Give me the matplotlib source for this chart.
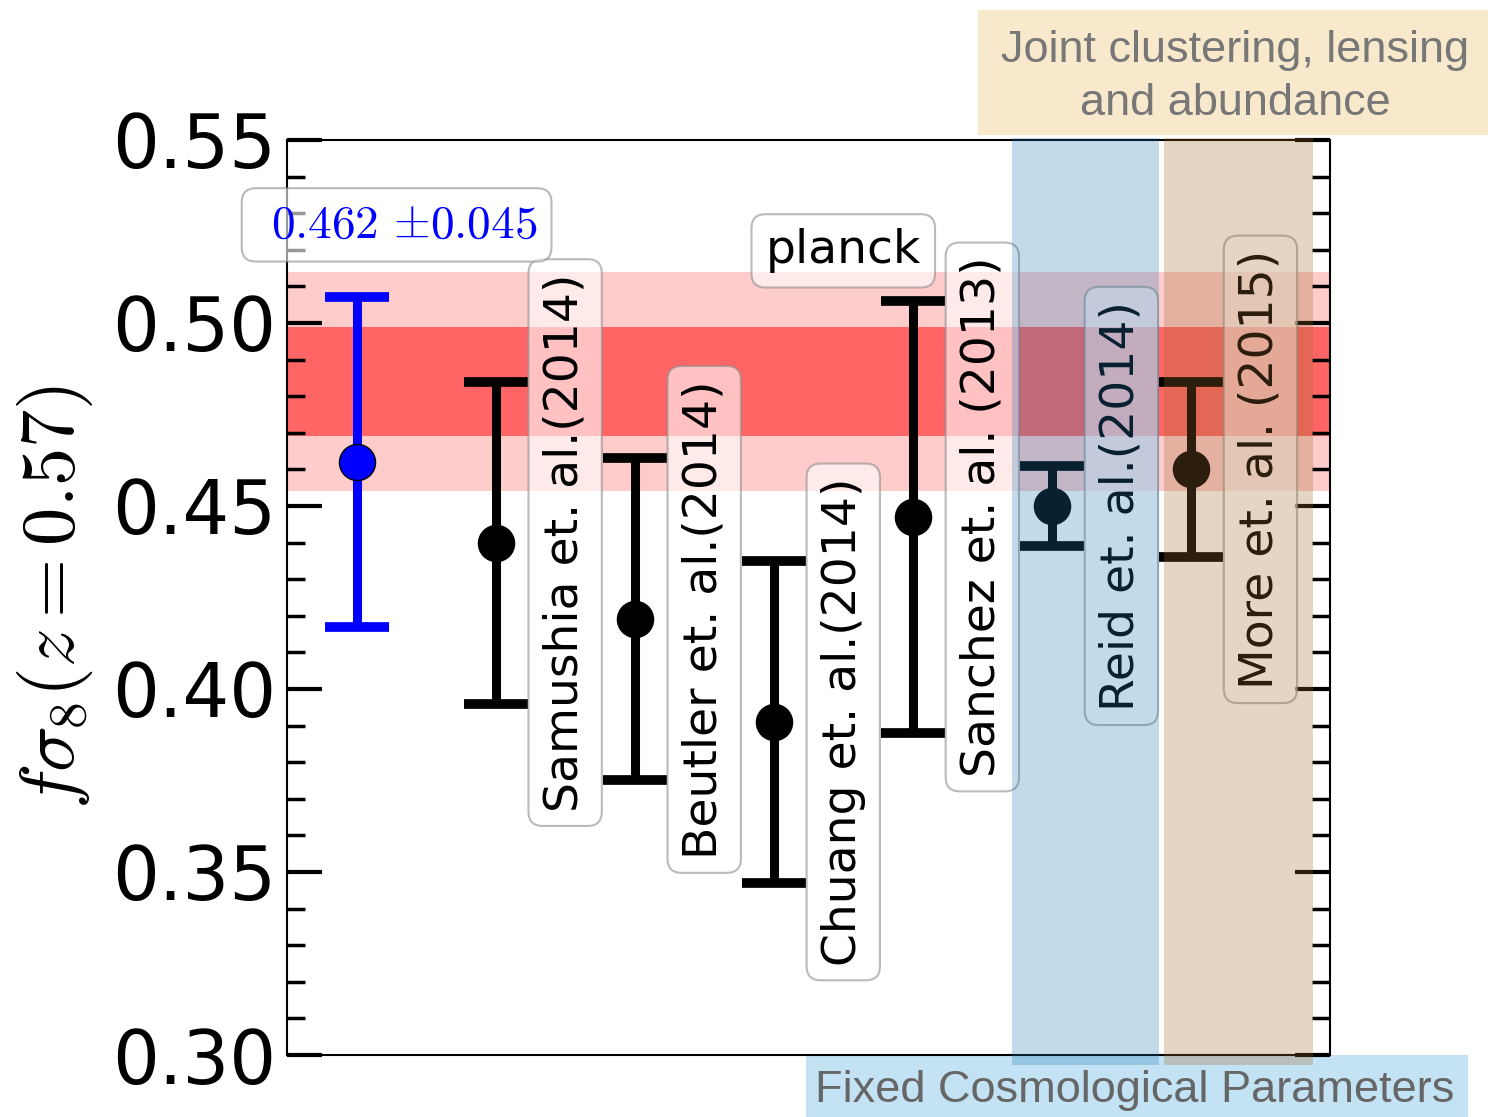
import matplotlib
matplotlib.use('Agg')
import matplotlib.pyplot as plt
import matplotlib.transforms as mtransforms
from matplotlib.patches import Rectangle
from matplotlib.ticker import MultipleLocator, FormatStrFormatter

plt.rcParams['mathtext.fontset'] = 'cm'
plt.rcParams['font.family'] = 'DejaVu Sans'

# f*sigma_8 at z=0.57: this measurement
this_value = 0.462
this_error = 0.045

# literature measurements
ref_labels = ['Samushia et. al.(2014)', 'Beutler et. al.(2014)', 'Chuang et. al.(2014)',
              'Sanchez et. al. (2013)', 'Reid et. al.(2014)', 'More et. al. (2015)']
ref_values = [0.440, 0.419, 0.391, 0.447, 0.450, 0.460]
ref_errors = [0.044, 0.044, 0.044, 0.059, 0.011, 0.024]

# Planck prediction: 1-sigma and 2-sigma ranges
planck_inner = (0.469, 0.499)
planck_outer = (0.454, 0.514)

# groups of measurements (in x units)
fixed_cosmo_span = (5.71, 6.77)
joint_span = (6.81, 7.88)

fig = plt.figure(figsize=(14.88, 11.17), dpi=100)
ax = fig.add_axes([0.1929, 0.0555, 0.7009, 0.8192])

ax.axhspan(*planck_outer, color='red', alpha=0.2, lw=0, zorder=0)
ax.axhspan(*planck_inner, color='red', alpha=0.5, lw=0, zorder=0)

ebkw = dict(fmt='none', elinewidth=6.5, capsize=23, capthick=7, zorder=3)
mkw = dict(marker='o', ls='none', ms=26, mec='black', mew=1.0, zorder=3.5)

ax.errorbar([1], [this_value], yerr=[this_error], ecolor='blue', **ebkw)
ax.plot([1], [this_value], mfc='blue', **mkw)

xs = list(range(2, 2 + len(ref_values)))
ax.errorbar(xs, ref_values, yerr=ref_errors, ecolor='black', **ebkw)
ax.plot(xs, ref_values, mfc='black', **mkw)

box = dict(boxstyle='round,pad=0.3', fc='white', ec='#8c8c8c', lw=1.5, alpha=0.6)
for x, v, lab in zip(xs, ref_values, ref_labels):
    ax.text(x + 0.5, v, lab, rotation=90, ha='center', va='center', fontsize=34,
            bbox=box, zorder=4)

ax.text(4.5, 0.5197, 'planck', ha='center', va='center', fontsize=34, bbox=box, zorder=4)
ax.text(1.288, 0.5268, f' ${this_value:.3f}$ $\\pm{this_error:.3f}$', color='blue',
        ha='center', va='center', fontsize=34, bbox=box, zorder=4, clip_on=False)

# shaded groups
trans = mtransforms.blended_transform_factory(ax.transData, ax.transAxes)
ax.add_patch(Rectangle((fixed_cosmo_span[0], -0.011), fixed_cosmo_span[1] - fixed_cosmo_span[0], 1.013,
                       transform=trans, fc=(31/255, 119/255, 180/255), alpha=0.27, lw=0,
                       clip_on=False, zorder=5))
ax.add_patch(Rectangle((joint_span[0], -0.011), joint_span[1] - joint_span[0], 1.013,
                       transform=trans, fc=(160/255, 105/255, 45/255), alpha=0.28, lw=0,
                       clip_on=False, zorder=5))

ax.set_xlim(0.5, 8.0)
ax.set_ylim(0.30, 0.55)
ax.set_xticks([])
ax.yaxis.set_major_locator(MultipleLocator(0.05))
ax.yaxis.set_minor_locator(MultipleLocator(0.01))
ax.yaxis.set_major_formatter(FormatStrFormatter('%.2f'))
ax.tick_params(axis='y', which='both', direction='in', left=True, right=True)
ax.tick_params(axis='y', which='major', length=25, width=3, labelsize=53, pad=8)
ax.tick_params(axis='y', which='minor', length=13, width=2.5)
for s in ax.spines.values():
    s.set_linewidth(1.5)

ax.set_ylabel(r'$f\sigma_8(z=0.57)$', fontsize=55, labelpad=12)

# group captions
fig.patches.append(Rectangle((0.657, 0.879), 0.343, 0.112, transform=fig.transFigure,
                             fc='#f8e9cc', ec='none', zorder=-1))
fig.text(0.830, 0.931, 'Joint clustering, lensing\nand abundance', ha='center', va='center',
         fontsize=32.5, color='#777777', family='Liberation Sans', linespacing=1.35)
fig.patches.append(Rectangle((0.5417, 0.0), 0.4449, 0.0555, transform=fig.transFigure,
                             fc='#c3e2f4', ec='none', zorder=-1))
fig.text(0.7628, 0.024, 'Fixed Cosmological Parameters', ha='center', va='center',
         fontsize=32.5, color='#666666', family='Liberation Sans')

fig.savefig('out.png', dpi=100)
